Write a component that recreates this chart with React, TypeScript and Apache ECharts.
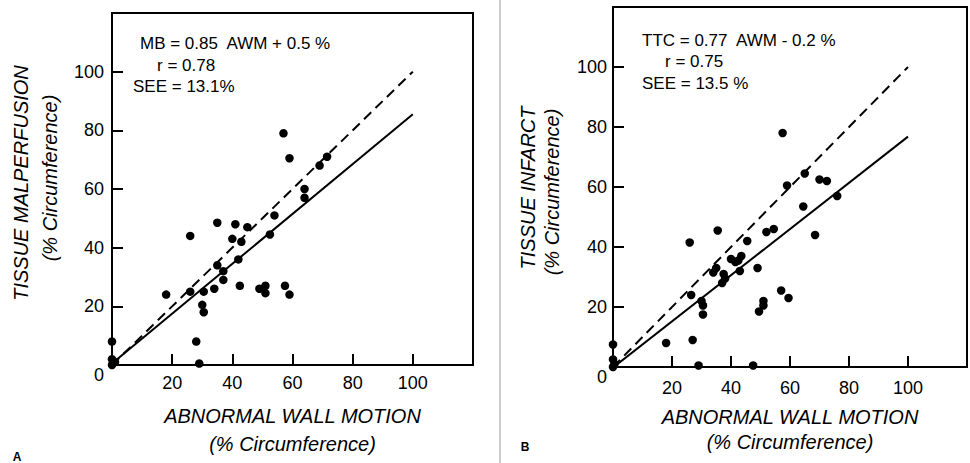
import React, { useEffect, useRef } from "react";
import * as echarts from "echarts";

// Panel A: abnormal wall motion vs tissue malperfusion (% circumference)
const awmA = [0, 0, 1, 0, 18, 26, 26, 28, 29, 30.5, 30, 30.5, 35, 35, 34, 37, 37, 40, 41, 43, 42, 42.5, 45, 49, 51, 51, 52.5, 54, 57.5, 59, 64, 64, 57, 59, 69, 71.5];
const mbA = [8, 2, 1, 0, 24, 44, 25, 8, 0.5, 25, 20.5, 18, 48.5, 34, 26, 32, 29, 43, 48, 42, 36, 27, 47, 26, 27, 24.5, 44.5, 51, 27, 24, 60, 57, 79, 70.5, 68, 71];

// Panel B: abnormal wall motion vs tissue infarct (% circumference)
const awmB = [0, 0, 0.5, 0, 18, 26, 26.5, 27, 29, 30, 30.5, 30.5, 35.5, 34, 35, 37.5, 38, 37, 40, 41.5, 42.5, 43.5, 43, 45.5, 47.5, 49, 49.5, 51, 51, 52, 54.5, 57, 59.5, 59, 64.5, 68.5, 76, 57.5, 65, 70, 72.5];
const ttcB = [7.5, 2.5, 1, 0, 8, 41.5, 24, 9, 0.5, 22, 20.5, 17.5, 45.5, 31.5, 33, 31, 29.5, 28, 36, 35, 35.5, 37, 32, 42, 0.5, 33, 18.5, 22, 20.5, 45, 46, 25.5, 23, 60.5, 53.5, 44, 57, 78, 64.5, 62.5, 62];

// Regression lines (slope, intercept) and identity line extent
const fitA = { slope: 0.85, intercept: 0.5 };
const fitB = { slope: 0.77, intercept: -0.2 };
const lineRange = [0, 100];

const axisTicks = [0, 20, 40, 60, 80, 100, 120];

const equationA = ["MB = 0.85  AWM + 0.5 %", "r = 0.78", "SEE = 13.1%"];
const equationB = ["TTC = 0.77  AWM - 0.2 %", "r = 0.75", "SEE = 13.5 %"];

const FONT = "'Liberation Sans', Arial, sans-serif";

function zip(xs: number[], ys: number[]) {
  return xs.map((x, i) => [x, ys[i]]);
}

export default function App() {
  const ref = useRef<HTMLDivElement>(null);
  useEffect(() => {
    if (!ref.current) return;
    const chart = echarts.init(ref.current, null, { renderer: "svg" });

    const makeX = (gridIndex: number) => ({
      type: "value",
      gridIndex,
      min: axisTicks[0],
      max: axisTicks[axisTicks.length - 1],
      interval: 20,
      splitLine: { show: false },
      axisLine: { lineStyle: { color: "#000", width: 2 } },
      axisTick: { inside: true, length: 11, lineStyle: { color: "#000", width: 2 } },
      axisLabel: {
        color: "#000",
        fontSize: 18,
        fontFamily: FONT,
        margin: gridIndex === 0 ? 9 : 12,
        formatter: (v: number) => (v === 0 || v === 120 ? "" : String(v)),
      },
      name: "ABNORMAL WALL MOTION\n(% Circumference)",
      nameLocation: "middle",
      nameGap: 37,
      nameTextStyle: {
        color: "#000",
        fontSize: 20,
        fontStyle: "italic",
        fontFamily: FONT,
        lineHeight: gridIndex === 0 ? 28 : 25,
      },
    });

    const makeY = (gridIndex: number) => ({
      type: "value",
      gridIndex,
      min: axisTicks[0],
      max: axisTicks[axisTicks.length - 1],
      interval: 20,
      splitLine: { show: false },
      axisLine: { lineStyle: { color: "#000", width: 2 } },
      axisTick: { inside: true, length: 11, lineStyle: { color: "#000", width: 2 } },
      axisLabel: {
        color: "#000",
        fontSize: 18,
        fontFamily: FONT,
        margin: gridIndex === 0 ? 8 : 6,
        formatter: (v: number) => (v === 120 ? "" : v === 0 ? "{z|0}" : String(v)),
        rich: { z: { fontSize: 18, fontFamily: FONT, color: "#000", padding: [20, 0, 0, 0] } },
      },
    });

    const scatter = (idx: number, data: number[][]) => ({
      type: "scatter",
      xAxisIndex: idx,
      yAxisIndex: idx,
      data,
      symbolSize: 8.5,
      itemStyle: { color: "#000", opacity: 1 },
      z: 5,
    });

    const line = (idx: number, data: number[][], dashed: boolean) => ({
      type: "line",
      xAxisIndex: idx,
      yAxisIndex: idx,
      data,
      showSymbol: false,
      symbol: "none",
      lineStyle: { color: "#000", width: 2, type: dashed ? [10, 6] : "solid" },
      z: 3,
    });

    const identity = lineRange.map((x) => [x, x]);
    const regA = lineRange.map((x) => [x, fitA.slope * x + fitA.intercept]);
    const regB = lineRange.map((x) => [x, fitB.slope * x + fitB.intercept]);

    const eqText = (lines: string[], xs: number[], ys: number[]) =>
      lines.map((t, i) => ({
        type: "text",
        x: xs[i],
        y: ys[i],
        style: {
          text: t,
          fill: "#000",
          font: `17px ${FONT}`,
          textAlign: "left",
          textVerticalAlign: "middle",
        },
      }));

    const yTitle = (t: string, x: number, y: number) => ({
      type: "text",
      x,
      y,
      rotation: Math.PI / 2,
      style: {
        text: t,
        fill: "#000",
        font: `italic 20px ${FONT}`,
        textAlign: "center",
        textVerticalAlign: "middle",
      },
    });

    chart.setOption({
      animation: false,
      backgroundColor: "#fff",
      grid: [
        { left: 112, top: 13, width: 361, height: 358, show: true, borderColor: "#000", borderWidth: 2 },
        { left: 613, top: 7, width: 360, height: 360, show: true, borderColor: "#000", borderWidth: 2 },
      ],
      xAxis: [makeX(0), makeX(1)],
      yAxis: [makeY(0), makeY(1)],
      series: [
        line(0, identity, true),
        line(0, regA, false),
        scatter(0, zip(awmA, mbA)),
        line(1, identity, true),
        line(1, regB, false),
        scatter(1, zip(awmB, ttcB)),
      ],
      graphic: [
        ...eqText(equationA, [140, 157, 133], [43, 65, 86]),
        ...eqText(equationB, [642, 665, 642], [40, 61, 83]),
        yTitle("TISSUE MALPERFUSION", 21, 183),
        yTitle("(% Circumference)", 50, 178),
        yTitle("TISSUE INFARCT", 528, 188),
        yTitle("(% Circumference)", 552, 192),
        {
          type: "text",
          x: 17,
          y: 457,
          style: { text: "A", fill: "#000", font: `bold 12px ${FONT}`, textAlign: "center", textVerticalAlign: "middle" },
        },
        {
          type: "text",
          x: 525,
          y: 447,
          style: { text: "B", fill: "#000", font: `bold 12px ${FONT}`, textAlign: "center", textVerticalAlign: "middle" },
        },
        {
          type: "line",
          shape: { x1: 500, y1: 0, x2: 500, y2: 463 },
          style: { stroke: "#999", lineWidth: 1 },
        },
      ],
    });
    return () => chart.dispose();
  }, []);

  return (
    <div
      ref={ref}
      style={{ position: "fixed", left: 0, top: 0, width: 970, height: 463, background: "#fff" }}
    />
  );
}
